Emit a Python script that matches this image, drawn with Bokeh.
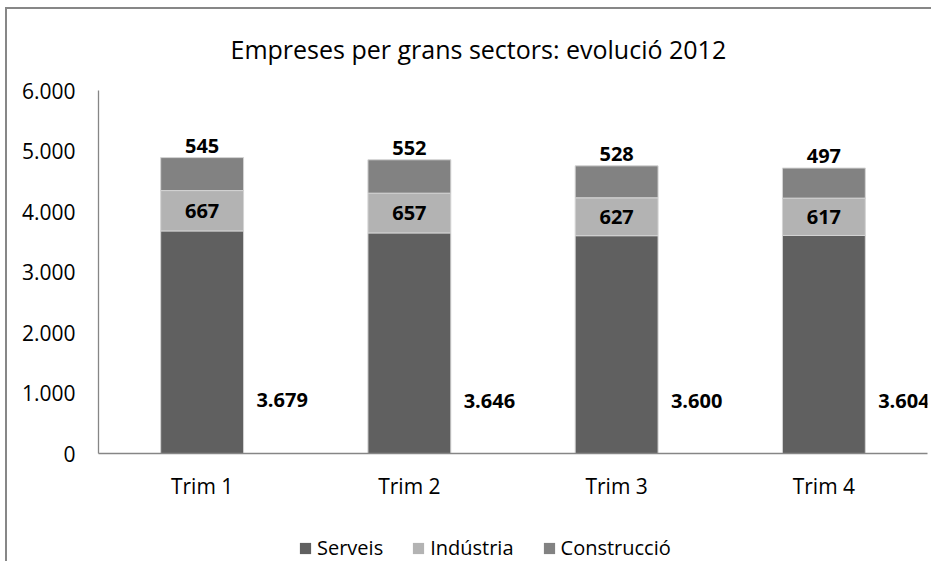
from bokeh.plotting import figure
from bokeh.layouts import column
from bokeh.models import (ColumnDataSource, FactorRange, Range1d, Legend, LegendItem,
                          CustomJSTickFormatter, FixedTicker)
from bokeh.core.properties import value
from bokeh.embed import file_html
from bokeh.resources import INLINE

# ---- data ----
trimestres = ["Trim 1", "Trim 2", "Trim 3", "Trim 4"]
serveis = [3679, 3646, 3600, 3604]
industria = [667, 657, 627, 617]
construccio = [545, 552, 528, 497]
series_names = ["Serveis", "Indústria", "Construcció"]
y_ticks = [0, 1000, 2000, 3000, 4000, 5000, 6000]

colors = ["#606060", "#b3b3b3", "#828282"]
FONT = "Open Sans"


def fmt(v):
    return format(v, ",").replace(",", ".")


src = ColumnDataSource(dict(
    trim=trimestres, serveis=serveis, industria=industria, construccio=construccio,
))

p = figure(x_range=FactorRange(*trimestres, range_padding=0),
           y_range=Range1d(0, 6000),
           width=931, height=520, output_backend="svg", toolbar_location=None,
           min_border_left=98, min_border_right=4, min_border_top=90, min_border_bottom=67)
p.border_fill_color = None
p.background_fill_color = "white"
p.outline_line_color = None
p.xgrid.grid_line_color = None
p.ygrid.grid_line_color = None

# title
p.title.text = "Empreses per grans sectors: evolució 2012"
p.title.text_font = FONT
p.title.text_font_size = "25px"
p.title.text_font_style = "normal"
p.title.text_color = "#000000"
p.title.align = "left"
p.title.vertical_align = "middle"
p.title.offset = 132
p.title.standoff = 48

# stacked bars
rs = p.vbar_stack(["serveis", "industria", "construccio"], x="trim", width=0.4,
                  color=colors, line_color="#d4d4d4", line_width=1, source=src)

# axes
for ax in (p.xaxis[0], p.yaxis[0]):
    ax.axis_line_color = "#868686"
    ax.axis_line_width = 1.3
    ax.major_tick_line_color = None
    ax.minor_tick_line_color = None
    ax.major_tick_in = 0
    ax.major_tick_out = 0
    ax.major_label_text_font = FONT
    ax.major_label_text_font_size = "21px"
    ax.major_label_text_color = "#000000"

p.yaxis[0].ticker = FixedTicker(ticks=y_ticks)
p.yaxis[0].formatter = CustomJSTickFormatter(
    code="return tick.toFixed(0).replace(/\\B(?=(\\d{3})+(?!\\d))/g, '.');")
p.yaxis[0].major_label_standoff = 23
p.xaxis[0].major_label_standoff = 18

# data labels
tops = [a + b + c for a, b, c in zip(serveis, industria, construccio)]
ind_mid = [a + b / 2 for a, b in zip(serveis, industria)]
serv_label_y = [v * 0.24 for v in serveis]

lab_common = dict(text_font=value(FONT), text_font_style="bold", text_font_size="20px",
                  text_color="#000000", text_align="center")
p.text(x=trimestres, y=serv_label_y, text=[fmt(v) for v in serveis],
       text_baseline="middle", x_offset=80, **lab_common)
p.text(x=trimestres, y=ind_mid, text=[fmt(v) for v in industria],
       text_baseline="middle", **lab_common)
p.text(x=trimestres, y=tops, text=[fmt(v) for v in construccio],
       text_baseline="bottom", y_offset=-5, **lab_common)

# legend strip (separate figure below the chart); key proxies are zero-height bars
pl = figure(width=931, height=41, output_backend="svg", toolbar_location=None,
            x_range=Range1d(0, 1), y_range=Range1d(0, 1),
            x_axis_type=None, y_axis_type=None,
            min_border_left=0, min_border_right=0, min_border_top=0, min_border_bottom=0)
pl.border_fill_color = None
pl.background_fill_color = None
pl.outline_line_color = None
pl.grid.visible = False
key_rs = [pl.vbar(x=[0], top=[0], bottom=0, width=0, fill_color=c, line_color=None)
          for c in colors]

legend = Legend(items=[LegendItem(label=n, renderers=[r]) for n, r in zip(series_names, key_rs)],
                orientation="horizontal", location=(200, 0))
legend.label_text_font = FONT
legend.label_text_font_size = "20px"
legend.label_text_color = "#000000"
legend.glyph_width = 14
legend.glyph_height = 14
legend.label_standoff = 5
legend.spacing = 28
legend.padding = 0
legend.margin = 0
legend.border_line_color = None
legend.background_fill_alpha = 0
pl.add_layout(legend, "center")

layout = column(p, pl, spacing=0)
layout.styles = {
    "background-color": "white",
    "background-image": "linear-gradient(#878787, #878787), linear-gradient(#878787, #878787)",
    "background-size": "2px 100%, 100% 2px",
    "background-position": "5px 8px, 5px 7px",
    "background-repeat": "no-repeat",
}

open("out.html", "w").write(file_html(layout, INLINE))
